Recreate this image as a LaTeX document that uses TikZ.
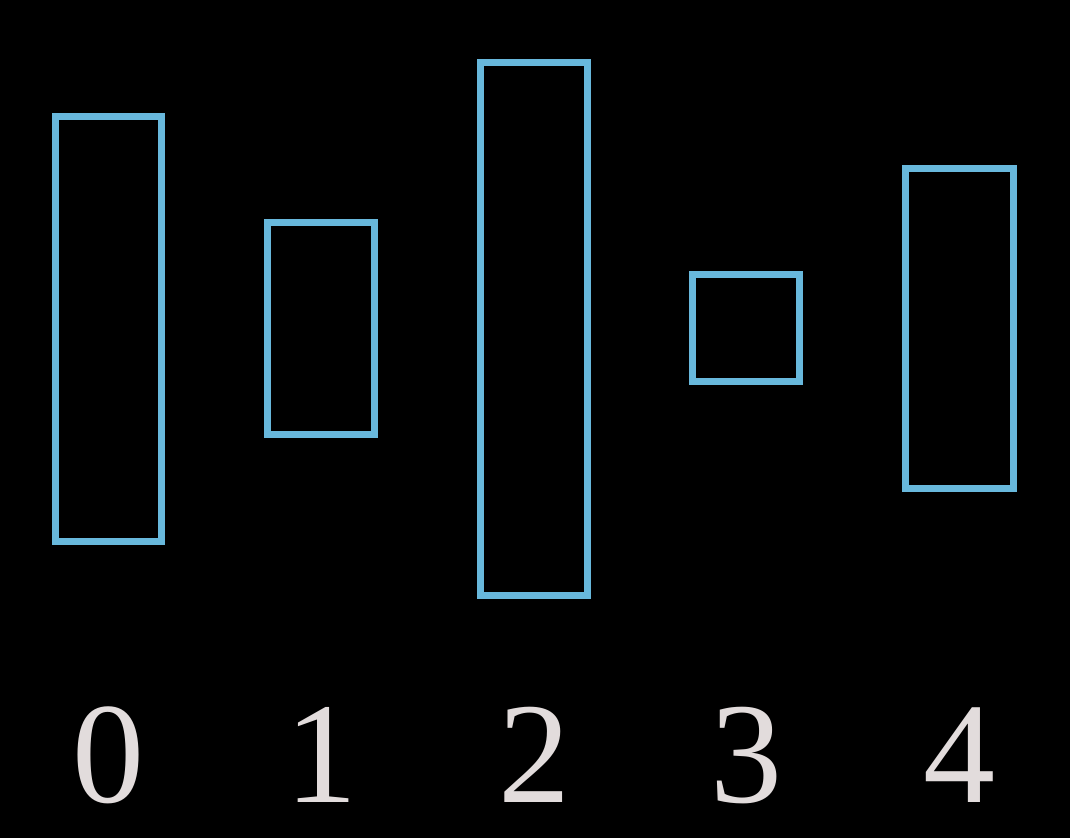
\documentclass[tikz,border=0pt]{standalone}
\usepackage{fontspec}
\setmainfont{Liberation Serif}
\definecolor{barblue}{RGB}{104,184,220}
\definecolor{digit}{RGB}{226,220,220}
\begin{document}
\begin{tikzpicture}[x=1pt,y=1pt,
  bar/.style={draw=barblue,line width=7pt},
  lab/.style={text=digit,font=\fontsize{144}{144}\selectfont,anchor=base,inner sep=0pt}]
\fill[black] (0,0) rectangle (1070,838);
\useasboundingbox (0,0) rectangle (1070,838);
% rectangles (y flipped: 838 - y)
\draw[bar] (55.5,721.5) rectangle (161.5,296.5);
\draw[bar] (267.5,615.5) rectangle (374.5,403.5);
\draw[bar] (480.5,775.5) rectangle (587.5,242.5);
\draw[bar] (692.5,563.5) rectangle (799.5,456.5);
\draw[bar] (905.5,669.5) rectangle (1013.5,349.5);
\node[lab] (l0) at (108,36) {0};
\node[lab] (l1) at (321,36) {1};
\node[lab] (l2) at (534,36) {2};
\node[lab] (l3) at (746,36) {3};
\node[lab] (l4) at (959,36) {4};
\end{tikzpicture}
\end{document}
